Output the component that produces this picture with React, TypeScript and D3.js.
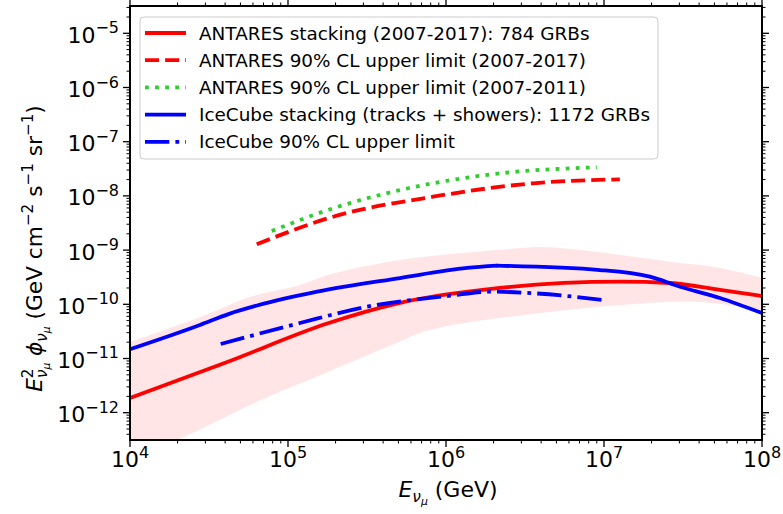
import React from "react";
import * as d3 from "d3";

// ---------- data (E in GeV, E^2 phi in GeV cm^-2 s^-1 sr^-1) ----------
const antaresStackE = [1e4, 4.17e4, 1.79e5, 5.12e5, 2.2e6, 1.26e7, 2.62e7, 5.42e7, 1e8];
const antaresStackF = [1.87e-12, 8.73e-12, 4.46e-11, 1.06e-10, 2.0e-10, 2.61e-10, 2.47e-10, 1.84e-10, 1.42e-10];

const bandUpperE = [1e4, 2.69e4, 5.74e4, 1.19e5, 1.79e5, 5.12e5, 2.2e6, 3.94e6, 7.05e6, 1.26e7, 2.62e7, 5.42e7, 1e8];
const bandUpperF = [2.02e-11, 5.58e-11, 1.36e-10, 2.27e-10, 3.48e-10, 6.58e-10, 1.01e-9, 1.14e-9, 1.0e-9, 8.13e-10, 6.1e-10, 4.68e-10, 3.06e-10];
const bandLowerE = [1e4, 2.01e4, 6.75e4, 1.79e5, 4.24e5, 7.93e5, 3.94e6, 2.04e7, 4.06e7, 1e8];
const bandLowerF = [1.34e-13, 3.13e-13, 1.71e-12, 5.64e-12, 1.63e-11, 3.36e-11, 6.9e-11, 1.07e-10, 1.1e-10, 7.85e-11];

const antaresUL17E = [6.34e4, 1.93e5, 8.28e5, 3.56e6, 1.26e7];
const antaresUL17F = [1.28e-9, 4.13e-9, 9.66e-9, 1.71e-8, 2.02e-8];

const antaresUL11E = [7.89e4, 1.93e5, 8.28e5, 2.2e6, 9.0e6];
const antaresUL11F = [2.25e-9, 5.9e-9, 1.71e-8, 2.61e-8, 3.37e-8];

const iceStackE = [1e4, 2.77e4, 4.2e4, 6.37e4, 1.53e5, 5.12e5, 1.36e6, 2.1e6, 9.44e6, 1.95e7, 3.03e7, 5.42e7, 1e8];
const iceStackF = [1.48e-11, 4.15e-11, 6.6e-11, 9.5e-11, 1.71e-10, 3.05e-10, 4.68e-10, 5.15e-10, 4.29e-10, 3.23e-10, 2.11e-10, 1.31e-10, 6.9e-11];
const iceStackKinkE = 2.1e6;

const iceULE = [3.75e4, 1.19e5, 3.16e5, 1.06e6, 1.9e6, 3.56e6, 9.86e6];
const iceULF = [1.85e-11, 4.52e-11, 9.04e-11, 1.44e-10, 1.71e-10, 1.6e-10, 1.2e-10];

const xMajor = [1e4, 1e5, 1e6, 1e7, 1e8];
const xMajorExp = ["4", "5", "6", "7", "8"];
const yMajor = [1e-12, 1e-11, 1e-10, 1e-9, 1e-8, 1e-7, 1e-6, 1e-5];
const yMajorExp = ["−12", "−11", "−10", "−9", "−8", "−7", "−6", "−5"];

const legendLabels = [
  "ANTARES stacking (2007-2017): 784 GRBs",
  "ANTARES 90% CL upper limit (2007-2017)",
  "ANTARES 90% CL upper limit (2007-2011)",
  "IceCube stacking (tracks + showers): 1172 GRBs",
  "IceCube 90% CL upper limit",
];

// ---------- layout ----------
const W = 783, H = 514;
const L = 130, R = 762, T = 6, B = 440;
const FONT = "DejaVu Sans, sans-serif";
const RED = "#ff0000", BLUE = "#0000ff", GREEN = "#32cd32";
const LW = 3.8;

const zip = (a: number[], b: number[]) => a.map((v, i) => [v, b[i]] as [number, number]);

export default function App() {
  const x = d3.scaleLog().domain([1e4, 1e8]).range([L, R]);
  const y = d3.scaleLog().domain([Math.pow(10, -12.5037), Math.pow(10, -4.4963)]).range([B, T]);

  const smooth = d3.line<[number, number]>().x(d => x(d[0])).y(d => y(d[1])).curve(d3.curveMonotoneX);
  const cr = d3.line<[number, number]>().x(d => x(d[0])).y(d => y(d[1])).curve(d3.curveCatmullRom);

  const upperPath = cr(zip(bandUpperE, bandUpperF)) as string;
  const lowerPath = cr(zip(bandLowerE, bandLowerF).reverse()) as string;
  const bandPath = upperPath + "L" + lowerPath.slice(1) + "Z";

  const ice = zip(iceStackE, iceStackF);
  const iceLeft = ice.filter(d => d[0] <= iceStackKinkE);
  const iceRight = ice.filter(d => d[0] >= iceStackKinkE);

  // minor ticks
  const xMinor: number[] = [];
  for (let k = 4; k < 8; k++) for (let m = 2; m <= 9; m++) xMinor.push(m * Math.pow(10, k));
  const yMinor: number[] = [];
  const [y0, y1] = y.domain();
  for (let k = -13; k <= -5; k++) for (let m = 2; m <= 9; m++) {
    const v = m * Math.pow(10, k);
    if (v >= y0 && v <= y1) yMinor.push(v);
  }

  const majLen = 7, minLen = 3.5;
  const tickStroke = "#000";

  const legendRows = [
    { color: RED, dash: undefined },
    { color: RED, dash: `${3.7 * LW} ${1.6 * LW}` },
    { color: GREEN, dash: `${LW} ${1.65 * LW}` },
    { color: BLUE, dash: undefined },
    { color: BLUE, dash: `${6.4 * LW} ${1.6 * LW} ${LW} ${1.6 * LW}` },
  ];
  const legX = 140, legY = 17, legW = 518, legH = 142;
  const rowY0 = 33, rowDy = 27.2;

  const fs = 22, sup = 16;

  return (
    <svg width={W} height={H} style={{ position: "absolute", left: 0, top: 0, background: "#fff" }} fontFamily={FONT}>
      <defs>
        <clipPath id="plotclip">
          <rect x={L} y={T} width={R - L} height={B - T} />
        </clipPath>
      </defs>
      <rect x={0} y={0} width={W} height={H} fill="#fff" />
      <g clipPath="url(#plotclip)">
        <path d={bandPath} fill={RED} fillOpacity={0.1} stroke="none" />
        <path d={smooth(zip(antaresStackE, antaresStackF)) as string} fill="none" stroke={RED} strokeWidth={LW} />
        <path d={smooth(zip(antaresUL17E, antaresUL17F)) as string} fill="none" stroke={RED} strokeWidth={LW} strokeDasharray={`${3.7 * LW} ${1.6 * LW}`} />
        <path d={smooth(zip(antaresUL11E, antaresUL11F)) as string} fill="none" stroke={GREEN} strokeWidth={LW} strokeDasharray={`${LW} ${1.65 * LW}`} />
        <path d={smooth(iceLeft) as string} fill="none" stroke={BLUE} strokeWidth={LW} strokeLinecap="round" />
        <path d={smooth(iceRight) as string} fill="none" stroke={BLUE} strokeWidth={LW} strokeLinecap="round" />
        <path d={smooth(zip(iceULE, iceULF)) as string} fill="none" stroke={BLUE} strokeWidth={LW} strokeDasharray={`${6.4 * LW} ${1.6 * LW} ${LW} ${1.6 * LW}`} />
      </g>

      {/* legend */}
      <rect x={legX} y={legY} width={legW} height={legH} rx={4} fill="#fff" fillOpacity={0.8} stroke="#cccccc" strokeWidth={1} />
      {legendRows.map((r, i) => (
        <g key={i}>
          <line x1={145} x2={186} y1={rowY0 + i * rowDy} y2={rowY0 + i * rowDy} stroke={r.color} strokeWidth={LW} strokeDasharray={r.dash} />
          <text x={199} y={rowY0 + i * rowDy + 6.5} fontSize={18.4} fill="#000">{legendLabels[i]}</text>
        </g>
      ))}

      {/* spines */}
      <rect x={L} y={T} width={R - L} height={B - T} fill="none" stroke="#000" strokeWidth={2} />

      {/* x ticks */}
      {xMajor.map((v, i) => (
        <g key={"xm" + i}>
          <line x1={x(v)} x2={x(v)} y1={B} y2={B + majLen} stroke={tickStroke} strokeWidth={1.3} />
          <line x1={x(v)} x2={x(v)} y1={T} y2={T - majLen} stroke={tickStroke} strokeWidth={1.3} />
          <text x={x(v)} y={467} textAnchor="middle" fontSize={fs} fill="#000">
            10<tspan fontSize={sup} dy={-9}>{xMajorExp[i]}</tspan>
          </text>
        </g>
      ))}
      {xMinor.map((v, i) => (
        <g key={"xn" + i}>
          <line x1={x(v)} x2={x(v)} y1={B} y2={B + minLen} stroke={tickStroke} strokeWidth={1} />
          <line x1={x(v)} x2={x(v)} y1={T} y2={T - minLen} stroke={tickStroke} strokeWidth={1} />
        </g>
      ))}

      {/* y ticks */}
      {yMajor.map((v, i) => (
        <g key={"ym" + i}>
          <line x1={L} x2={L - majLen} y1={y(v)} y2={y(v)} stroke={tickStroke} strokeWidth={1.3} />
          <line x1={R} x2={R + majLen} y1={y(v)} y2={y(v)} stroke={tickStroke} strokeWidth={1.3} />
          <text x={119} y={y(v) + 9.5} textAnchor="end" fontSize={fs} fill="#000">
            10<tspan fontSize={sup} dy={-9.5}>{yMajorExp[i]}</tspan>
          </text>
        </g>
      ))}
      {yMinor.map((v, i) => (
        <g key={"yn" + i}>
          <line x1={L} x2={L - minLen} y1={y(v)} y2={y(v)} stroke={tickStroke} strokeWidth={1} />
          <line x1={R} x2={R + minLen} y1={y(v)} y2={y(v)} stroke={tickStroke} strokeWidth={1} />
        </g>
      ))}

      {/* x label */}
      <text x={448} y={497} textAnchor="middle" fontSize={22} fill="#000">
        <tspan fontStyle="italic">E</tspan>
        <tspan fontStyle="italic" fontSize={15.4} dy={5}>ν</tspan>
        <tspan fontStyle="italic" fontSize={10.8} dy={3}>μ</tspan>
        <tspan dy={-8}>{" (GeV)"}</tspan>
      </text>

      {/* y label */}
      <text transform="translate(41.5,248.5) rotate(-90)" textAnchor="middle" fontSize={21.7} fill="#000">
        <tspan fontStyle="italic">E</tspan>
        <tspan fontSize={15.2} dy={-9}>2</tspan>
        <tspan fontStyle="italic" fontSize={15.2} dx={-9.6} dy={14}>ν</tspan>
        <tspan fontStyle="italic" fontSize={10.6} dy={3}>μ</tspan>
        <tspan dy={-8}>{" "}</tspan>
        <tspan fontStyle="italic">ϕ</tspan>
        <tspan fontStyle="italic" fontSize={15.2} dy={5}>ν</tspan>
        <tspan fontStyle="italic" fontSize={10.6} dy={3}>μ</tspan>
        <tspan dy={-8}>{"  (GeV cm"}</tspan>
        <tspan fontSize={15.2} dy={-9}>−2</tspan>
        <tspan dy={9}>{" s"}</tspan>
        <tspan fontSize={15.2} dy={-9}>−1</tspan>
        <tspan dy={9}>{" sr"}</tspan>
        <tspan fontSize={15.2} dy={-9}>−1</tspan>
        <tspan dy={9}>)</tspan>
      </text>
    </svg>
  );
}
